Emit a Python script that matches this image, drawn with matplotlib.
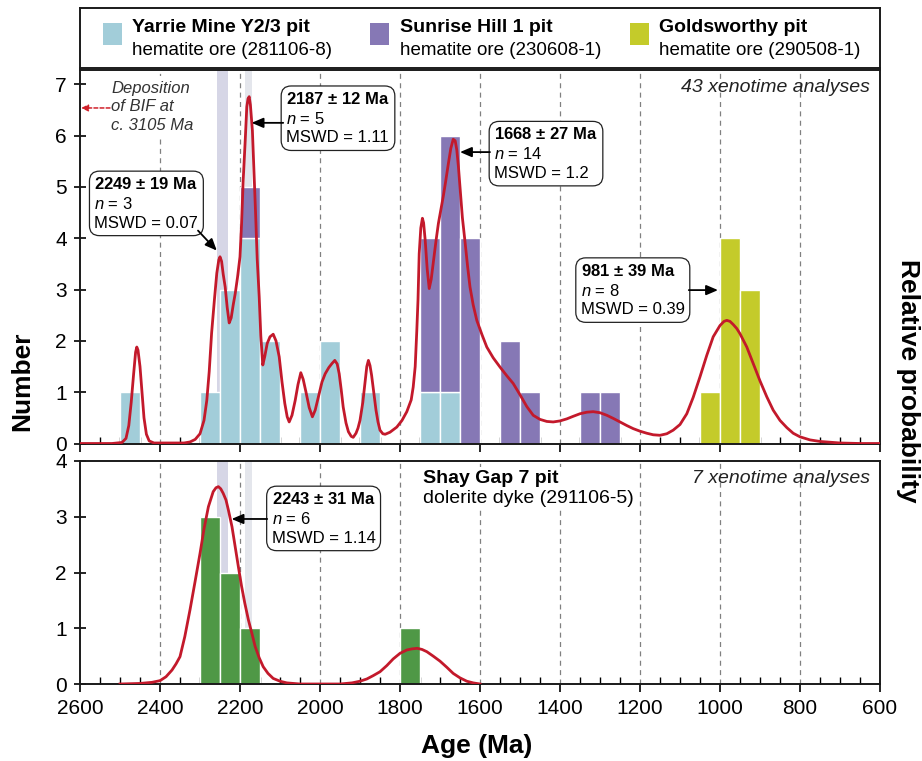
import matplotlib.pyplot as plt
from matplotlib.patches import Rectangle

plt.rcParams['font.family'] = ['Liberation Sans', 'DejaVu Sans']
plt.rcParams['mathtext.fontset'] = 'custom'
plt.rcParams['mathtext.rm'] = 'Liberation Sans'
plt.rcParams['mathtext.it'] = 'Liberation Sans:italic'
plt.rcParams['mathtext.bf'] = 'Liberation Sans:bold'

# --- data (bin centres in Ma, 50 Ma bins) ---
yarrie_age = [2475, 2275, 2225, 2175, 2125, 2025, 1975, 1875, 1725, 1675]
yarrie_n = [1, 1, 3, 4, 2, 1, 2, 1, 1, 1]
sunrise_age = [2175, 1725, 1675, 1625, 1525, 1475, 1325, 1275]
sunrise_n = [1, 3, 5, 4, 2, 1, 1, 1]
golds_age = [1025, 975, 925]
golds_n = [1, 4, 3]
shay_age = [2275, 2225, 2175, 1775]
shay_n = [3, 2, 1, 1]

# relative probability curves (scaled to the Number axis)
up_curve_age = [2600, 2520, 2495, 2485, 2478, 2472, 2466, 2461, 2458, 2455, 2450, 2445, 2440, 2434, 2427, 2415,
                2340, 2325, 2312, 2300, 2290, 2283, 2277, 2271, 2264, 2258, 2253, 2250, 2246, 2242, 2237, 2232,
                2227, 2222, 2217, 2212, 2206, 2200, 2196, 2192, 2187, 2183, 2180, 2177, 2174, 2169, 2165, 2161,
                2157, 2152, 2148, 2143, 2138, 2132, 2125, 2117, 2110, 2102, 2095, 2088, 2082, 2077, 2070, 2062,
                2055, 2048, 2042, 2035, 2027, 2019, 2012, 2004, 1995, 1987, 1978, 1970, 1963, 1957, 1952, 1947,
                1942, 1935, 1929, 1922, 1917, 1910, 1905, 1900, 1893, 1887, 1883, 1879, 1875, 1871, 1865, 1860,
                1855, 1850, 1843, 1837, 1825, 1808, 1795, 1783, 1772, 1767, 1762, 1758, 1755, 1752, 1748, 1744,
                1741, 1737, 1732, 1727, 1722, 1717, 1710, 1704, 1698, 1692, 1686, 1679, 1673, 1667, 1662, 1658,
                1654, 1650, 1644, 1637, 1631, 1625, 1617, 1608, 1595, 1583, 1567, 1550, 1533, 1517, 1500, 1483,
                1467, 1450, 1433, 1417, 1400, 1383, 1367, 1350, 1333, 1317, 1300, 1283, 1267, 1250, 1233, 1217,
                1200, 1183, 1167, 1150, 1133, 1117, 1100, 1083, 1067, 1050, 1033, 1017, 1000, 990, 983, 975,
                967, 958, 950, 933, 917, 900, 883, 867, 850, 833, 817, 800, 775, 750, 700, 650, 600]
up_curve_val = [0.0, 0.0, 0.02, 0.1, 0.35, 0.8, 1.35, 1.78, 1.88, 1.82, 1.5, 1.0, 0.5, 0.18, 0.05, 0.01,
                0.01, 0.03, 0.08, 0.19, 0.45, 0.84, 1.4, 2.15, 2.8, 3.32, 3.58, 3.64, 3.55, 3.3, 3.05, 2.65,
                2.35, 2.45, 2.7, 2.92, 3.25, 3.64, 4.3, 5.13, 5.9, 6.56, 6.72, 6.76, 6.6, 6.1, 5.3, 4.48,
                3.6, 2.86, 2.1, 1.53, 1.7, 1.95, 2.08, 2.13, 2.0, 1.69, 1.2, 0.78, 0.52, 0.42, 0.55, 0.84,
                1.15, 1.38, 1.25, 1.0, 0.7, 0.52, 0.65, 0.91, 1.2, 1.36, 1.48, 1.56, 1.62, 1.55, 1.36, 1.05,
                0.71, 0.4, 0.23, 0.14, 0.12, 0.2, 0.3, 0.45, 0.8, 1.23, 1.5, 1.62, 1.52, 1.33, 0.95, 0.65,
                0.42, 0.26, 0.19, 0.18, 0.22, 0.32, 0.45, 0.62, 0.85, 1.1, 1.5, 2.2, 2.8, 3.7, 4.2, 4.39,
                4.3, 3.96, 3.4, 3.02, 3.2, 3.51, 3.95, 4.29, 4.55, 4.81, 5.1, 5.46, 5.75, 5.93, 5.9, 5.72,
                5.4, 5.0, 4.4, 3.9, 3.45, 3.05, 2.7, 2.4, 2.12, 1.88, 1.67, 1.49, 1.32, 1.17, 0.95, 0.72,
                0.55, 0.47, 0.43, 0.42, 0.44, 0.48, 0.53, 0.58, 0.61, 0.62, 0.6, 0.55, 0.49, 0.42, 0.35, 0.29,
                0.24, 0.2, 0.17, 0.16, 0.19, 0.26, 0.37, 0.58, 0.9, 1.3, 1.72, 2.08, 2.3, 2.38, 2.4, 2.38,
                2.32, 2.24, 2.14, 1.88, 1.56, 1.22, 0.91, 0.65, 0.45, 0.31, 0.2, 0.13, 0.07, 0.04, 0.01, 0.0, 0.0]

low_curve_age = [2500, 2450, 2420, 2400, 2385, 2370, 2360, 2350, 2338, 2325, 2312, 2300, 2290, 2279, 2267,
                 2260, 2254, 2248, 2242, 2235, 2229, 2220, 2212, 2204, 2196, 2188, 2179, 2170, 2162, 2152,
                 2142, 2130, 2117, 2100, 2083, 2050, 1950, 1920, 1900, 1883, 1867, 1850, 1833, 1817, 1800,
                 1783, 1770, 1757, 1745, 1733, 1717, 1700, 1683, 1667, 1650, 1633, 1617, 1600]
low_curve_val = [0.0, 0.01, 0.03, 0.06, 0.13, 0.25, 0.36, 0.49, 0.85, 1.33, 1.85, 2.34, 2.78, 3.18, 3.45,
                 3.52, 3.54, 3.5, 3.42, 3.3, 3.12, 2.82, 2.46, 2.1, 1.75, 1.45, 1.15, 0.9, 0.67, 0.47,
                 0.31, 0.19, 0.1, 0.05, 0.02, 0.0, 0.0, 0.02, 0.05, 0.09, 0.15, 0.22, 0.33, 0.45, 0.55,
                 0.61, 0.63, 0.64, 0.62, 0.58, 0.5, 0.41, 0.3, 0.19, 0.11, 0.05, 0.02, 0.0]

band_lo = [2230, 2170]
band_hi = [2258, 2188]
band_col = ['#d6d6e6', '#e4e6ec']

grid_ages = [2400, 2200, 2000, 1800, 1600, 1400, 1200, 1000, 800]

c_yarrie = '#a2cdd9'
c_sunrise = '#8678b5'
c_golds = '#c4cb2a'
c_shay = '#4f9846'
c_red = '#c3192b'

W, H = 922, 761


def rect(x0, y0, x1, y1):
    return [x0 / W, 1 - y1 / H, (x1 - x0) / W, (y1 - y0) / H]


fig = plt.figure(figsize=(W / 100, H / 100), dpi=100)
ax_leg = fig.add_axes(rect(80, 8, 880, 68))
ax1 = fig.add_axes(rect(80, 70, 880, 443.5))
ax2 = fig.add_axes(rect(80, 461, 880, 684))

# legend box
ax_leg.set_xlim(0, 1)
ax_leg.set_ylim(0, 1)
ax_leg.set_xticks([])
ax_leg.set_yticks([])
legend_items = [
    (c_yarrie, 'Yarrie Mine Y2/3 pit', 'hematite ore (281106-8)', 103, 132),
    (c_sunrise, 'Sunrise Hill 1 pit', 'hematite ore (230608-1)', 370, 400),
    (c_golds, 'Goldsworthy pit', 'hematite ore (290508-1)', 630, 659),
]
for col, l1, l2, xs, xt in legend_items:
    ax_leg.add_patch(Rectangle(((xs - 80) / 800, 0.38), 19 / 800, 0.37, color=col, lw=0))
    ax_leg.text((xt - 80) / 800, 0.67, l1, fontsize=14, fontweight='bold', va='center', ha='left')
    ax_leg.text((xt - 80) / 800, 0.29, l2, fontsize=13.5, va='center', ha='left')

for ax in (ax1, ax2):
    ax.set_xlim(2600, 600)
    ax.set_xticks(range(2600, 599, -200))
    ax.set_xticks(range(2600, 599, -50), minor=True)
    ax.tick_params(axis='x', which='major', direction='out', length=6, width=1.2, labelsize=15, pad=5)
    ax.tick_params(axis='x', which='minor', direction='in', length=5, width=1.0)
    ax.tick_params(axis='y', direction='inout', length=9, width=1.2, labelsize=15, pad=5)
    for g in grid_ages:
        ax.axvline(g, color='#808080', ls=(0, (4, 3.5)), lw=0.9, zorder=0.5)
    for lo, hi, bc in zip(band_lo, band_hi, band_col):
        ax.axvspan(hi, lo, color=bc, lw=0, zorder=0.8)
for ax in (ax_leg, ax1, ax2):
    for s in ax.spines.values():
        s.set_linewidth(1.4)
        s.set_color('#1a1a1a')

# upper panel
ax1.set_ylim(0, 7.28)
ax1.set_yticks(range(0, 8))
ax1.tick_params(labelbottom=False)
yarrie_lookup = dict(zip(yarrie_age, yarrie_n))
sunrise_bottom = [yarrie_lookup.get(a, 0) for a in sunrise_age]
ax1.bar(yarrie_age, yarrie_n, width=50, color=c_yarrie, edgecolor='white', linewidth=1.0, zorder=2)
ax1.bar(sunrise_age, sunrise_n, bottom=sunrise_bottom, width=50, color=c_sunrise, edgecolor='white',
        linewidth=1.0, zorder=2)
ax1.bar(golds_age, golds_n, width=50, color=c_golds, edgecolor='white', linewidth=1.0, zorder=2)
ax1.plot(up_curve_age, up_curve_val, color=c_red, lw=2.0, zorder=3, solid_joinstyle='round')

# lower panel
ax2.set_ylim(0, 4)
ax2.set_yticks(range(0, 5))
ax2.bar(shay_age, shay_n, width=50, color=c_shay, edgecolor='white', linewidth=1.0, zorder=2)
ax2.plot(low_curve_age, low_curve_val, color=c_red, lw=2.0, zorder=3, solid_joinstyle='round')

box = dict(boxstyle='round,pad=0.3,rounding_size=0.6', fc='white', ec='#222222', lw=0.9)
arrow = dict(arrowstyle='-|>,head_length=0.7,head_width=0.3', color='black', lw=1.3, shrinkA=0, shrinkB=0)


def age_box(ax, x, y, head, n, mswd):
    txt = '$\\mathbf{' + head.replace(' ', '\\ ') + '}$\n$\\mathit{n}$ = ' + n + '\nMSWD = ' + mswd
    ax.text(x, y, txt, fontsize=12, ha='center', va='center', multialignment='left',
            linespacing=1.3, bbox=box, zorder=6)


age_box(ax1, 2434, 4.68, '2249 ± 19 Ma', '3', '0.07')
age_box(ax1, 1955, 6.34, '2187 ± 12 Ma', '5', '1.11')
age_box(ax1, 1435, 5.65, '1668 ± 27 Ma', '14', '1.2')
age_box(ax1, 1218, 2.99, '981 ± 39 Ma', '8', '0.39')
age_box(ax2, 1991, 2.97, '2243 ± 31 Ma', '6', '1.14')

ax1.annotate('', xy=(2258, 3.76), xytext=(2305, 4.15), arrowprops=arrow, zorder=6)
ax1.annotate('', xy=(2171, 6.25), xytext=(2092, 6.25), arrowprops=arrow, zorder=6)
ax1.annotate('', xy=(1650, 5.68), xytext=(1575, 5.68), arrowprops=arrow, zorder=6)
ax1.annotate('', xy=(1005, 2.99), xytext=(1078, 2.99), arrowprops=arrow, zorder=6)
ax2.annotate('', xy=(2221, 2.96), xytext=(2132, 2.96), arrowprops=arrow, zorder=6)

ax1.text(2522, 6.56, 'Deposition\nof BIF at\nc. 3105 Ma', fontsize=12, style='italic', color='#333333',
         ha='left', va='center', linespacing=1.3, zorder=6,
         bbox=dict(boxstyle='square,pad=0.3', fc='white', ec='none'))
ax1.annotate('', xy=(2597, 6.54), xytext=(2525, 6.54), zorder=6,
             arrowprops=dict(arrowstyle='-|>,head_length=0.4,head_width=0.2', color='#d0202a',
                             lw=1.1, ls=(0, (2.5, 1.5)), shrinkA=0, shrinkB=0))

ax1.text(625, 6.93, '43 xenotime analyses', fontsize=14, style='italic', color='#222222',
         ha='right', va='center', zorder=6)
ax2.text(626, 3.68, '7 xenotime analyses', fontsize=14, style='italic', color='#222222',
         ha='right', va='center', zorder=6)
ax2.text(1742, 3.68, 'Shay Gap 7 pit', fontsize=14, fontweight='bold', ha='left', va='center', zorder=6,
         bbox=dict(boxstyle='square,pad=0.15', fc='white', ec='none'))
ax2.text(1742, 3.32, 'dolerite dyke (291106-5)', fontsize=14, ha='left', va='center', zorder=6,
         bbox=dict(boxstyle='square,pad=0.15', fc='white', ec='none'))

fig.text(22 / W, 1 - 381 / H, 'Number', rotation=90, fontsize=19, fontweight='bold', ha='center', va='center')
fig.text(908 / W, 1 - 381 / H, 'Relative probability', rotation=270, fontsize=19, fontweight='bold',
         ha='center', va='center')
fig.text(477 / W, 1 - 746 / H, 'Age (Ma)', fontsize=19, fontweight='bold', ha='center', va='center')

fig.savefig('out.png', dpi=100)
